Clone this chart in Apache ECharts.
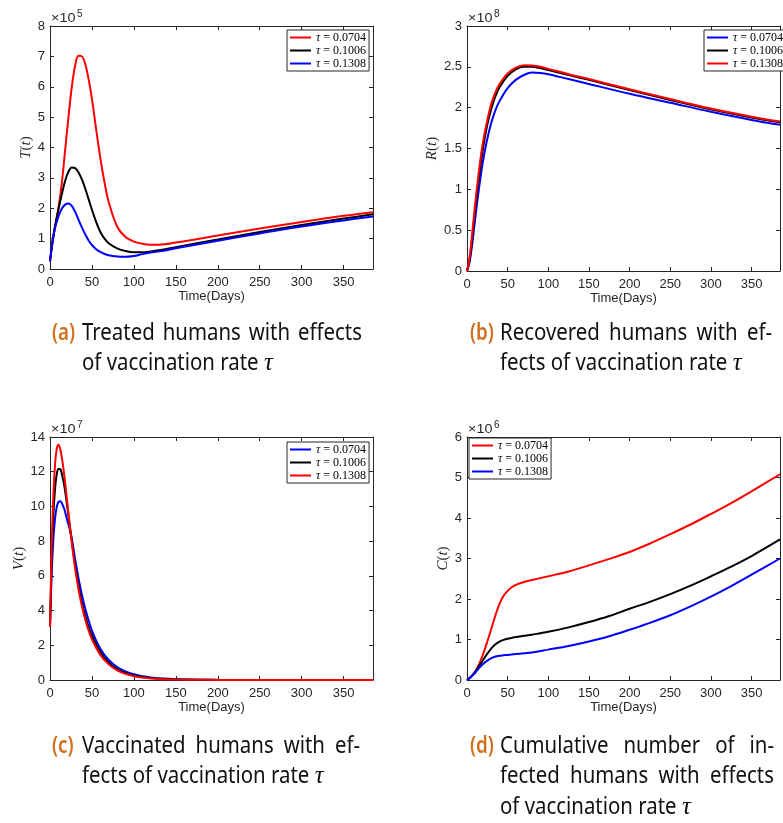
<!DOCTYPE html>
<html>
<head>
<meta charset="utf-8">
<script src="https://cdn.jsdelivr.net/npm/echarts@6/dist/echarts.min.js"></script>
<style>
  html, body { margin: 0; padding: 0; background: #ffffff; }
  #chart { width: 783px; height: 823px; }
</style>
</head>
<body>
<div id="chart"></div>
<script>
// ---------------- data ----------------
// common x-axis ticks (days)
const dayTicks = [0, 50, 100, 150, 200, 250, 300, 350];
const legendRates = ['0.0704', '0.1006', '0.1308'];

// (a) treated humans T(t), in units of 1e5
const daysT = [0, 3, 6, 10, 14, 18, 22, 26, 30, 34, 38, 42, 46, 50, 55, 60, 65, 70, 80, 90, 100, 110, 120, 130, 150, 200, 250, 300, 350, 385];
const treatedRate1 = [0.25, 0.9, 1.4, 2.0, 2.8, 3.9, 5.0, 6.0, 6.7, 7.02, 7.0, 6.75, 6.25, 5.6, 4.6, 3.65, 2.85, 2.2, 1.4, 1.05, 0.9, 0.83, 0.8, 0.8, 0.87, 1.1, 1.33, 1.55, 1.75, 1.87];
const treatedRate2 = [0.25, 0.9, 1.4, 1.95, 2.45, 2.9, 3.2, 3.34, 3.32, 3.18, 2.95, 2.65, 2.3, 1.95, 1.55, 1.22, 1.0, 0.85, 0.68, 0.59, 0.55, 0.55, 0.58, 0.62, 0.72, 0.97, 1.22, 1.45, 1.66, 1.8];
const treatedRate3 = [0.25, 0.88, 1.35, 1.72, 1.98, 2.12, 2.16, 2.08, 1.88, 1.62, 1.37, 1.14, 0.94, 0.79, 0.65, 0.56, 0.5, 0.45, 0.41, 0.4, 0.43, 0.49, 0.54, 0.58, 0.68, 0.93, 1.17, 1.4, 1.6, 1.73];
const treatedTicks = [0, 1, 2, 3, 4, 5, 6, 7, 8];

// (b) recovered humans R(t), in units of 1e8
const daysR = [0, 3, 6, 9, 12, 15, 18, 21, 25, 30, 35, 40, 50, 60, 70, 80, 90, 100, 125, 150, 200, 250, 300, 350, 385];
const recoveredRate1 = [0, 0.1, 0.3, 0.55, 0.8, 1.03, 1.24, 1.42, 1.62, 1.82, 1.97, 2.08, 2.24, 2.34, 2.4, 2.43, 2.425, 2.41, 2.35, 2.29, 2.17, 2.06, 1.95, 1.85, 1.79];
const recoveredRate2 = [0, 0.13, 0.37, 0.65, 0.93, 1.17, 1.39, 1.58, 1.79, 1.99, 2.14, 2.25, 2.39, 2.47, 2.5, 2.5, 2.485, 2.46, 2.4, 2.34, 2.215, 2.095, 1.98, 1.88, 1.82];
const recoveredRate3 = [0, 0.15, 0.42, 0.72, 1.0, 1.25, 1.47, 1.65, 1.85, 2.05, 2.19, 2.29, 2.42, 2.49, 2.52, 2.515, 2.5, 2.475, 2.41, 2.35, 2.225, 2.105, 1.99, 1.89, 1.83];
const recoveredTicks = [0, 0.5, 1, 1.5, 2, 2.5, 3];

// (c) vaccinated humans V(t), in units of 1e7
const daysV = [0, 2, 4, 6, 8, 10, 12, 14, 17, 20, 25, 30, 35, 40, 45, 50, 60, 70, 80, 90, 100, 110, 120, 135, 150, 175, 200, 250, 300, 385];
const vaccinatedRate1 = [3.05, 6.1, 8.1, 9.3, 9.95, 10.25, 10.3, 10.2, 9.85, 9.3, 8.4, 6.95, 5.6, 4.5, 3.6, 2.85, 1.8, 1.15, 0.75, 0.5, 0.33, 0.22, 0.15, 0.08, 0.045, 0.02, 0.008, 0.002, 0, 0];
const vaccinatedRate2 = [3.05, 6.9, 9.5, 11.0, 11.85, 12.15, 12.15, 11.9, 11.2, 10.2, 8.35, 6.6, 5.15, 4.05, 3.2, 2.55, 1.6, 1.0, 0.63, 0.4, 0.26, 0.17, 0.11, 0.06, 0.035, 0.014, 0.006, 0.001, 0, 0];
const vaccinatedRate3 = [3.05, 7.6, 10.6, 12.4, 13.3, 13.56, 13.35, 12.85, 11.8, 10.5, 8.3, 6.4, 4.95, 3.85, 3.0, 2.35, 1.45, 0.9, 0.56, 0.35, 0.22, 0.14, 0.09, 0.05, 0.03, 0.012, 0.005, 0.001, 0, 0];
const vaccinatedTicks = [0, 2, 4, 6, 8, 10, 12, 14];

// (d) cumulative infected humans C(t), in units of 1e6
const daysC = [0, 5, 10, 15, 20, 25, 30, 35, 40, 45, 50, 55, 60, 70, 80, 100, 125, 150, 175, 200, 225, 250, 275, 300, 325, 350, 385];
const cumulativeRate1 = [0, 0.08, 0.2, 0.4, 0.65, 0.95, 1.27, 1.6, 1.88, 2.08, 2.2, 2.29, 2.35, 2.42, 2.47, 2.56, 2.68, 2.83, 2.99, 3.16, 3.37, 3.6, 3.84, 4.1, 4.37, 4.66, 5.08];
const cumulativeRate2 = [0, 0.08, 0.2, 0.35, 0.5, 0.65, 0.78, 0.88, 0.95, 0.99, 1.02, 1.04, 1.06, 1.09, 1.12, 1.19, 1.3, 1.43, 1.58, 1.76, 1.93, 2.12, 2.33, 2.56, 2.8, 3.06, 3.47];
const cumulativeRate3 = [0, 0.08, 0.18, 0.3, 0.4, 0.48, 0.54, 0.58, 0.6, 0.61, 0.62, 0.63, 0.64, 0.66, 0.68, 0.75, 0.84, 0.95, 1.08, 1.24, 1.41, 1.6, 1.82, 2.06, 2.32, 2.6, 3.0];
const cumulativeTicks = [0, 1, 2, 3, 4, 5, 6];

// sub-figure captions
const captionA = { tag: '(a)', lines: ['Treated humans with effects', 'of vaccination rate τ'] };
const captionB = { tag: '(b)', lines: ['Recovered humans with ef-', 'fects of vaccination rate τ'] };
const captionC = { tag: '(c)', lines: ['Vaccinated humans with ef-', 'fects of vaccination rate τ'] };
const captionD = { tag: '(d)', lines: ['Cumulative number of in-', 'fected humans with effects', 'of vaccination rate τ'] };

// ---------------- styling ----------------
const AXIS_COLOR = '#262626';
const SANS = '"Liberation Sans", Arial, sans-serif';
const SERIF = '"Liberation Serif", "DejaVu Serif", serif';
const RED = '#ff0000', BLACK = '#000000', BLUE = '#0000ff';
const X_MAX = 385;

// panel boxes (plot area in px)
const panels = [
  { left: 50,  top: 26,  width: 323, height: 243 },
  { left: 467, top: 26,  width: 323, height: 245 },
  { left: 50,  top: 437, width: 323, height: 243 },
  { left: 467, top: 437, width: 323, height: 243 }
];

function pairs(xs, ys) { return xs.map((x, i) => [x, ys[i]]); }

const grids = [], xAxes = [], yAxes = [], series = [], legends = [], graphics = [];

function addPanel(idx, cfg) {
  const p = panels[idx];
  grids.push({ left: p.left, top: p.top, width: p.width, height: p.height, show: false });
  const tick = { show: true, inside: true, length: 4, lineStyle: { color: AXIS_COLOR, width: 1 } };
  const line = { show: true, onZero: false, lineStyle: { color: AXIS_COLOR, width: 1 } };
  const xBase = { type: 'value', gridIndex: idx, min: 0, max: X_MAX, interval: 50, splitLine: { show: false }, axisLine: line, axisTick: tick };
  xAxes.push(Object.assign({}, xBase, {
    position: 'bottom',
    name: 'Time(Days)', nameLocation: 'middle', nameGap: 20,
    nameTextStyle: { color: AXIS_COLOR, fontSize: 13, fontFamily: SANS },
    axisLabel: {
      show: true, margin: 7, color: AXIS_COLOR, fontSize: 13, fontFamily: SANS,
      formatter: v => (dayTicks.indexOf(v) >= 0 ? String(v) : '')
    }
  }));
  xAxes.push(Object.assign({}, xBase, { position: 'top', axisLabel: { show: false } }));
  const yt = cfg.ticks;
  const yBase = {
    type: 'value', gridIndex: idx, min: yt[0], max: yt[yt.length - 1], interval: yt[1] - yt[0],
    splitLine: { show: false }, axisLine: line, axisTick: tick
  };
  yAxes.push(Object.assign({}, yBase, {
    position: 'left',
    name: '{i|' + cfg.sym + '}({i|t})', nameLocation: 'middle', nameRotate: 90, nameGap: 14,
    nameTextStyle: {
      color: AXIS_COLOR, fontSize: 15, fontFamily: SERIF,
      rich: { i: { fontStyle: 'italic', fontSize: 15, fontFamily: SERIF, color: AXIS_COLOR } }
    },
    axisLabel: { show: true, margin: 5, color: AXIS_COLOR, fontSize: 13, fontFamily: SANS }
  }));
  yAxes.push(Object.assign({}, yBase, { position: 'right', axisLabel: { show: false } }));

  const names = [];
  cfg.lines.forEach((ln, k) => {
    const nm = cfg.sym + ' τ = ' + ln.rate;
    names.push(nm);
    series.push({
      type: 'line', name: nm, xAxisIndex: 2 * idx, yAxisIndex: 2 * idx,
      data: pairs(cfg.days, ln.values), showSymbol: false, symbol: 'none',
      smooth: 0.35, clip: true,
      lineStyle: { color: ln.color, width: 2 }, itemStyle: { color: ln.color },
      emphasis: { disabled: true }, z: 2 + k
    });
  });
  legends.push({
    orient: 'vertical', left: cfg.legendPos[0], top: cfg.legendPos[1],
    data: names, icon: 'rect', itemWidth: 21, itemHeight: 2, itemGap: 0,
    padding: [1, 3, 1, 3], borderColor: AXIS_COLOR, borderWidth: 1, backgroundColor: '#ffffff',
    selectedMode: false,
    formatter: n => '{g|τ} = ' + n.split('= ')[1],
    textStyle: {
      color: '#000', fontSize: 12, fontFamily: SERIF, lineHeight: 13,
      rich: { g: { fontStyle: 'italic', fontSize: 12, fontFamily: SERIF, lineHeight: 13 } }
    }
  });

  // power-of-ten multiplier above the y axis
  graphics.push({
    type: 'text', x: p.left + 1, y: p.top - 7, scaleX: 1.2, silent: true,
    style: { text: '×10', font: '12px ' + SANS, fill: AXIS_COLOR, verticalAlign: 'middle' }
  });
  graphics.push({
    type: 'text', x: p.left + 27, y: p.top - 12, silent: true,
    style: { text: String(cfg.exp), font: '10px ' + SANS, fill: AXIS_COLOR, verticalAlign: 'middle' }
  });
}

addPanel(0, {
  sym: 'T', exp: 5, ticks: treatedTicks, days: daysT, legendPos: [287, 30],
  lines: [
    { rate: legendRates[0], values: treatedRate1, color: RED },
    { rate: legendRates[1], values: treatedRate2, color: BLACK },
    { rate: legendRates[2], values: treatedRate3, color: BLUE }
  ]
});
addPanel(1, {
  sym: 'R', exp: 8, ticks: recoveredTicks, days: daysR, legendPos: [704, 30],
  lines: [
    { rate: legendRates[0], values: recoveredRate1, color: BLUE },
    { rate: legendRates[1], values: recoveredRate2, color: BLACK },
    { rate: legendRates[2], values: recoveredRate3, color: RED }
  ]
});
addPanel(2, {
  sym: 'V', exp: 7, ticks: vaccinatedTicks, days: daysV, legendPos: [287, 442],
  lines: [
    { rate: legendRates[0], values: vaccinatedRate1, color: BLUE },
    { rate: legendRates[1], values: vaccinatedRate2, color: BLACK },
    { rate: legendRates[2], values: vaccinatedRate3, color: RED }
  ]
});
addPanel(3, {
  sym: 'C', exp: 6, ticks: cumulativeTicks, days: daysC, legendPos: [469, 438],
  lines: [
    { rate: legendRates[0], values: cumulativeRate1, color: RED },
    { rate: legendRates[1], values: cumulativeRate2, color: BLACK },
    { rate: legendRates[2], values: cumulativeRate3, color: BLUE }
  ]
});

// ---------------- captions (justified, hanging indent) ----------------
const CAP_FAMILY = '"Noto Sans", sans-serif';
const CAP_SIZE = 24;
const CAP_SX = 0.85;
const CAP_LINE = 30.5;
const measureCtx = document.createElement('canvas').getContext('2d');
function measure(str, font) { measureCtx.font = font; return measureCtx.measureText(str).width; }

function addCaption(cap, x0, x1, y0) {
  const capFont = CAP_SIZE + 'px ' + CAP_FAMILY;
  const tagFont = '600 ' + CAP_SIZE + 'px ' + CAP_FAMILY;
  const tauFont = 'italic ' + (CAP_SIZE + 1) + 'px ' + SERIF;
  graphics.push({
    type: 'text', x: x0, y: y0, scaleX: CAP_SX * 0.92, silent: true,
    style: { text: cap.tag, font: tagFont, fill: '#d0701c', verticalAlign: 'middle' }
  });
  const indent = x0 + 30;
  const space = measure(' ', capFont) * CAP_SX;
  cap.lines.forEach((ln, k) => {
    const y = y0 + k * CAP_LINE;
    const words = ln.split(' ');
    const isTau = words.map(w => w === 'τ');
    const widths = words.map((w, i) => isTau[i] ? measure(w, tauFont) : measure(w, capFont) * CAP_SX);
    const total = widths.reduce((a, b) => a + b, 0);
    let gap = space;
    if (k < cap.lines.length - 1 && words.length > 1) gap = Math.max(space * 0.6, (x1 - indent - total) / (words.length - 1));
    let x = indent;
    words.forEach((w, i) => {
      graphics.push({
        type: 'text', x: x, y: y, scaleX: isTau[i] ? 1 : CAP_SX, silent: true,
        style: { text: w, font: isTau[i] ? tauFont : capFont, fill: '#111111', verticalAlign: 'middle' }
      });
      x += widths[i] + gap;
    });
  });
}
addCaption(captionA, 52, 362, 333);
addCaption(captionB, 470, 772, 333);
addCaption(captionC, 52, 360, 746);
addCaption(captionD, 470, 774, 746);

const chart = echarts.init(document.getElementById('chart'), null, { renderer: 'canvas' });
chart.setOption({
  animation: false,
  backgroundColor: '#ffffff',
  grid: grids, xAxis: xAxes, yAxis: yAxes, series: series, legend: legends,
  graphic: { elements: graphics },
  tooltip: { show: false }
});
</script>
</body>
</html>
